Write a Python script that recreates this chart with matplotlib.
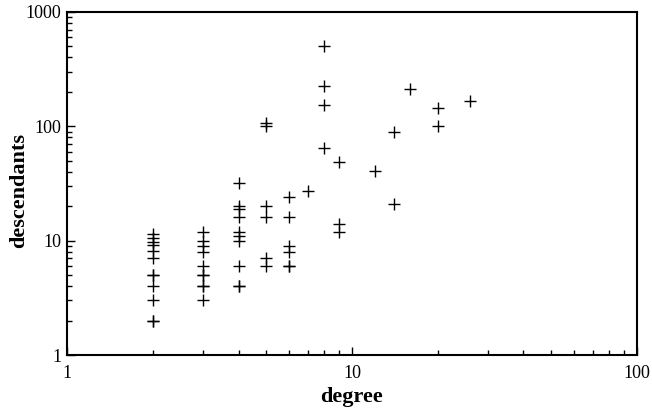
import matplotlib
matplotlib.use("Agg")
import matplotlib.pyplot as plt
from matplotlib.ticker import LogLocator, FixedLocator, FixedFormatter, NullFormatter

plt.rcParams['font.family'] = ['Liberation Serif', 'DejaVu Serif']

# degree vs descendants
degree = [2, 2, 2, 2, 2, 2, 2, 2, 2, 2, 2, 2,
          3, 3, 3, 3, 3, 3, 3, 3, 3, 3,
          4, 4, 4, 4, 4, 4, 4, 4, 4, 4,
          5, 5, 5, 5, 5, 5,
          6, 6, 6, 6, 6, 6,
          7,
          8, 8, 8, 8,
          9, 9, 9,
          12,
          14, 14,
          16,
          20, 20,
          26]
descendants = [11.4, 10.6, 9.8, 9.2, 8.2, 7, 5, 5, 4, 3, 2, 2,
               12, 10, 9, 8, 6, 5, 5, 4, 4, 3,
               32, 20, 19, 16, 12, 11, 10, 6, 4, 4,
               107, 100, 20, 16, 7, 6,
               24, 16, 9, 8, 6, 6,
               27,
               500, 226, 154, 64,
               49, 14, 12,
               41,
               90, 21,
               211,
               144, 101,
               167]

fig = plt.figure(figsize=(6.52, 4.12), dpi=100)
ax = fig.add_axes([0.1028, 0.1383, 0.874, 0.8326])

ax.plot(degree, descendants, linestyle='none', marker='+', color='black',
        markersize=9, markeredgewidth=1.0)

ax.set_xscale('log')
ax.set_yscale('log')
ax.set_xlim(1, 100)
ax.set_ylim(1, 1000)

ax.xaxis.set_major_locator(FixedLocator([1, 10, 100]))
ax.xaxis.set_major_formatter(FixedFormatter(['1', '10', '100']))
ax.yaxis.set_major_locator(FixedLocator([1, 10, 100, 1000]))
ax.yaxis.set_major_formatter(FixedFormatter(['1', '10', '100', '1000']))
ax.xaxis.set_minor_locator(LogLocator(base=10, subs=range(2, 10)))
ax.yaxis.set_minor_locator(LogLocator(base=10, subs=range(2, 10)))
ax.xaxis.set_minor_formatter(NullFormatter())
ax.yaxis.set_minor_formatter(NullFormatter())

ax.tick_params(which='both', direction='in', top=False, right=False,
               labelsize=13, width=1.0)
ax.tick_params(which='major', length=6)
ax.tick_params(which='minor', length=3.5)
ax.tick_params(axis='x', pad=7)
ax.tick_params(axis='y', pad=4)

for s in ax.spines.values():
    s.set_linewidth(1.5)

ax.set_xlabel('degree', fontsize=16, fontweight='bold', labelpad=4)
ax.set_ylabel('descendants', fontsize=16, fontweight='bold')
ax.yaxis.set_label_coords(-0.066, 0.48)

fig.savefig('out.png', dpi=100)
